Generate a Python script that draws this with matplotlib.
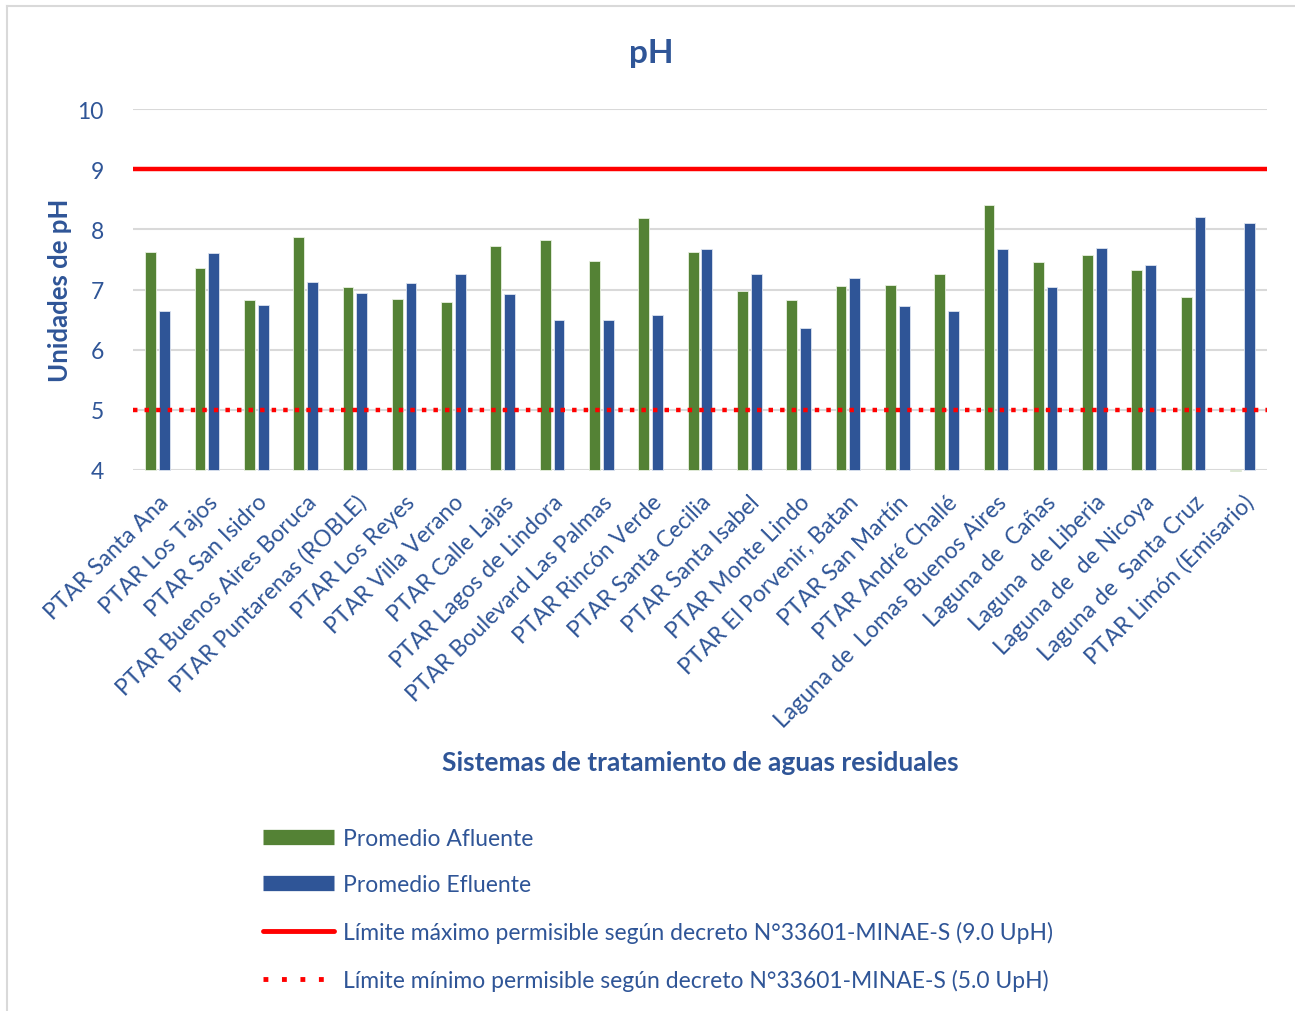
import matplotlib
matplotlib.use("Agg")
import matplotlib.pyplot as plt
from matplotlib.lines import Line2D
import numpy as np

plt.rcParams['font.family'] = ['Lato', 'DejaVu Sans']

sistemas = [
    "PTAR Santa Ana", "PTAR Los Tajos", "PTAR San Isidro", "PTAR Buenos Aires Boruca",
    "PTAR Puntarenas (ROBLE)", "PTAR Los Reyes", "PTAR Villa Verano", "PTAR Calle Lajas",
    "PTAR Lagos de Lindora", "PTAR Boulevard Las Palmas", "PTAR Rincón Verde",
    "PTAR Santa Cecilia", "PTAR Santa Isabel", "PTAR Monte Lindo", "PTAR El Porvenir, Batan",
    "PTAR San Martín", "PTAR André Challé", "Laguna de  Lomas Buenos Aires",
    "Laguna de  Cañas", "Laguna  de Liberia", "Laguna de  de Nicoya",
    "Laguna de  Santa Cruz", "PTAR Limón (Emisario)",
]
afluente = [7.63, 7.35, 6.83, 7.87, 7.04, 6.84, 6.80, 7.72, 7.82, 7.47, 8.19, 7.63,
            6.97, 6.83, 7.05, 7.07, 7.25, 8.40, 7.45, 7.58, 7.33, 6.88, 3.98]
efluente = [6.65, 7.61, 6.75, 7.12, 6.95, 7.10, 7.25, 6.93, 6.49, 6.49, 6.57, 7.68,
            7.26, 6.36, 7.19, 6.72, 6.65, 7.67, 7.04, 7.69, 7.40, 8.20, 8.10]
limite_max = 9.0
limite_min = 5.0
y_ticks = [4, 5, 6, 7, 8, 9, 10]

AZUL = "#2F5597"
VERDE = "#548235"
ROJO = "#FF0000"
TEXTO = "#2F5597"

W, H = 1295, 1012
fig = plt.figure(figsize=(W / 100, H / 100), dpi=100)
ax = fig.add_axes([133 / W, 1 - 471 / H, (1267 - 133) / W, (471 - 110) / H])

x = np.arange(len(sistemas))
base = y_ticks[0]
bw = 0.22
off = 0.14
ax.bar(x - off, np.array(afluente) - base, bottom=base, width=bw, color=VERDE,
       edgecolor="#E8F0E0", linewidth=0.6, zorder=3, clip_on=False)
ax.bar(x + off, np.array(efluente) - base, bottom=base, width=bw, color=AZUL,
       edgecolor="#DCE3F0", linewidth=0.6, zorder=3, clip_on=False)

ax.axhline(limite_max, color=ROJO, lw=3.2, zorder=4)
ax.axhline(limite_min, color=ROJO, lw=3.2, linestyle=(0, (1, 1.6)), zorder=4)

ax.set_xlim(-0.5, len(sistemas) - 0.5)
ax.set_ylim(4, 10)
ax.set_yticks(y_ticks)
ax.yaxis.grid(True, color="#D9D9D9", lw=1.5, zorder=0)
ax.set_axisbelow(True)
for s in ax.spines.values():
    s.set_visible(False)
ax.tick_params(axis="both", length=0, labelsize=16.5, labelcolor=TEXTO)
ax.tick_params(axis="y", pad=21)
ax.set_xticks(x)
ax.set_xticklabels(sistemas, rotation=45, ha="right", rotation_mode="anchor")
ax.tick_params(axis="x", pad=15)

fig.text(651 / W, 1 - 53 / H, "pH", ha="center", va="center", fontsize=24,
         fontweight="bold", color=TEXTO)
fig.text(60 / W, 1 - 290 / H, "Unidades de pH", ha="center", va="center",
         rotation=90, fontsize=18.5, fontweight="bold", color=TEXTO)
fig.text(700 / W, 1 - 763 / H, "Sistemas de tratamiento de aguas residuales",
         ha="center", va="center", fontsize=19, fontweight="bold", color=TEXTO)

handles = [
    Line2D([0], [0], color=VERDE, lw=11, solid_capstyle="butt"),
    Line2D([0], [0], color=AZUL, lw=11, solid_capstyle="butt"),
    Line2D([0], [0], color=ROJO, lw=3.5, solid_capstyle="round"),
    Line2D([0], [0], color=ROJO, lw=3.5, linestyle=(0, (1, 2.8))),
]
labels = [
    "Promedio Afluente",
    "Promedio Efluente",
    "Límite máximo permisible según decreto N°33601-MINAE-S (9.0 UpH)",
    "Límite mínimo permisible según decreto N°33601-MINAE-S (5.0 UpH)",
]
leg = fig.legend(handles, labels, loc="upper left",
                 bbox_to_anchor=(242 / W, 1 - 808 / H), frameon=False,
                 fontsize=16.5, handlelength=3.1, handletextpad=0.4,
                 labelspacing=1.12, labelcolor=TEXTO)

# chart border (left and top edges)
fig.add_artist(Line2D([7 / W, 7 / W], [0, 1 - 7 / H], color="#D9D9D9", lw=1.5))
fig.add_artist(Line2D([7 / W, 1], [1 - 7 / H, 1 - 7 / H], color="#D9D9D9", lw=1.5))

fig.savefig("out.png", dpi=100, facecolor="white")
